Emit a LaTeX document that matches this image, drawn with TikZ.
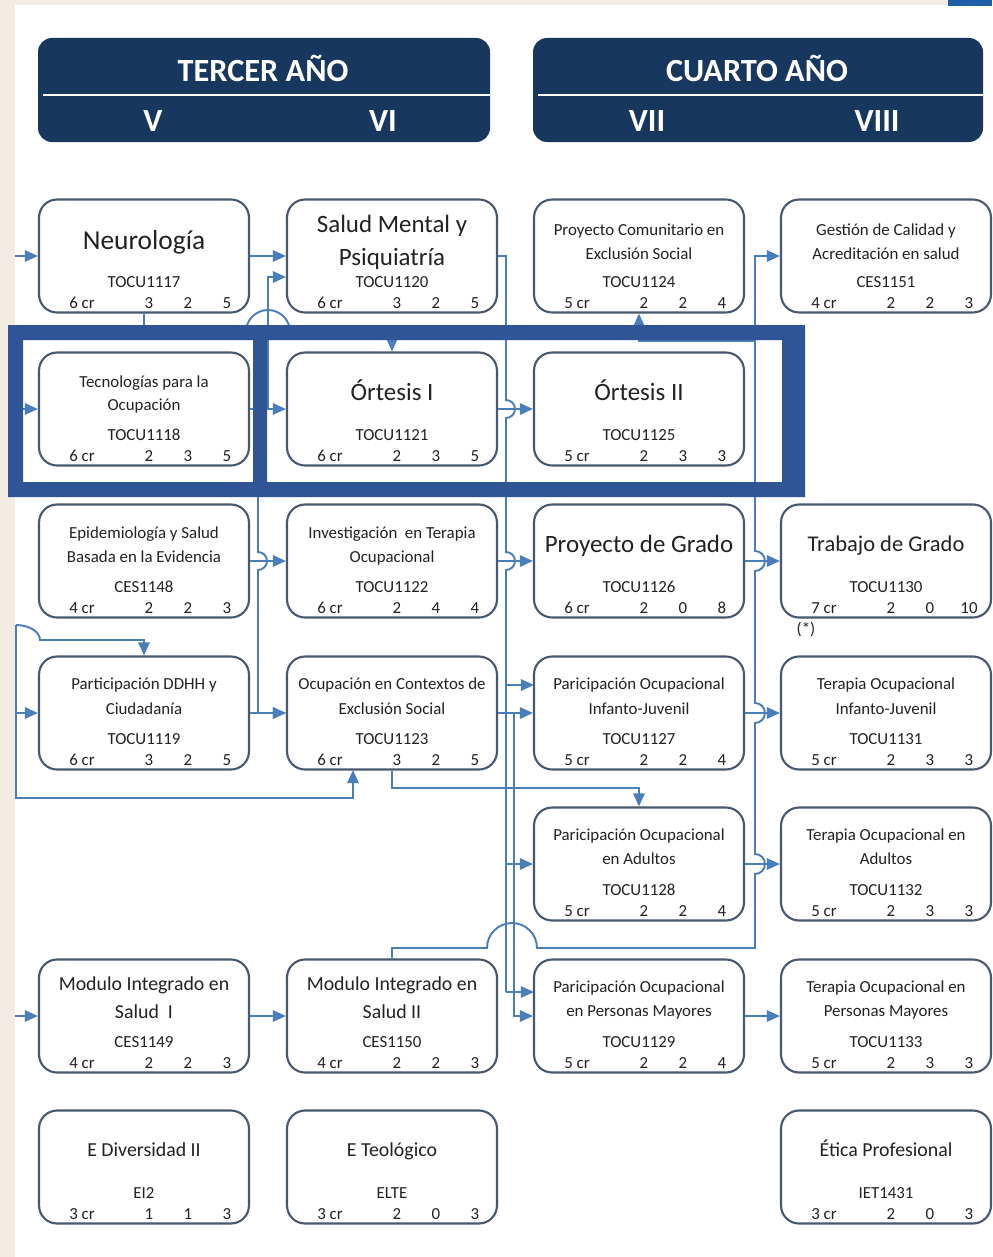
\documentclass[tikz,border=0pt]{standalone}
\usepackage{fontspec}
\setmainfont{Carlito}
\usetikzlibrary{arrows.meta}
\definecolor{navy}{HTML}{17375E}
\definecolor{lblue}{HTML}{4A7EBB}
\definecolor{boxc}{HTML}{475870}
\definecolor{fblue}{HTML}{2F5597}
\definecolor{beige}{HTML}{F2ECE2}
\definecolor{topblue}{HTML}{1F5FAA}
\definecolor{txt}{HTML}{222222}
\tikzset{
 cbox/.style={draw=boxc, line width=1.2pt, rounded corners=0.36cm, minimum width=4.2cm, minimum height=2.26cm, inner sep=0pt, fill=white},
 lbl/.style={inner sep=0pt, text=txt, text height=0.7em, text depth=0.2em},
 sm/.style={lbl, font=\fontsize{9.6}{11}\selectfont, yshift=-1.6pt},
 md/.style={lbl, font=\fontsize{11.3}{13}\selectfont, yshift=-1.8pt},
 bg/.style={lbl, font=\fontsize{14.2}{16}\selectfont, yshift=-2.2pt},
 conn/.style={draw=lblue, line width=1.1pt},
 arr/.style={conn, -{Triangle[length=7.5pt,width=6.5pt]}},
 hdr/.style={fill=navy, rounded corners=0.28cm},
 htxt/.style={inner sep=0pt, text=white, font=\bfseries\fontsize{18.4}{20}\selectfont, text height=0.7em, text depth=0.2em, yshift=-3.6pt},
}
\newcommand\course[8]{%
 \node[cbox] (#1) at ({#2+105},{#3+56}) {};
 \node[sm] (#1-code) at ({#2+105},{#3+80}) {#4};
 \node[sm] (#1-cr) at ({#2+43},{#3+101}) {#5 cr};
 \node[sm] (#1-a) at ({#2+110},{#3+101}) {#6};
 \node[sm] (#1-b) at ({#2+149},{#3+101}) {#7};
 \node[sm] (#1-c) at ({#2+188},{#3+101}) {#8};
}
\begin{document}
\begin{tikzpicture}[x=0.02cm,y=-0.02cm]
\useasboundingbox (0,0) rectangle (992,1257);
% background
\fill[white] (0,0) rectangle (992,1257);
\fill[beige] (0,0) rectangle (15,1257);
\fill[beige] (0,0) rectangle (992,5);
\fill[topblue] (948,0) rectangle (992,6);
% headers
\fill[hdr] (38,38) rectangle (490,142);
\fill[hdr] (533,38) rectangle (983,142);
\draw[white, line width=1.2pt] (43,95) -- (490,95);
\draw[white, line width=1.2pt] (538,95) -- (983,95);
\node[htxt] (h3) at (263,71) {TERCER AÑO};
\node[htxt] (h5) at (153,121) {V};
\node[htxt] (h6) at (383,121) {VI};
\node[htxt] (h4) at (757,71) {CUARTO AÑO};
\node[htxt] (h7) at (647,121) {VII};
\node[htxt] (h8) at (877,121) {VIII};

% boxes
\course{neuro}{39}{200}{TOCU1117}{6}{3}{2}{5}
\course{salud}{287}{200}{TOCU1120}{6}{3}{2}{5}
\course{proycom}{534}{200}{TOCU1124}{5}{2}{2}{4}
\course{gestion}{781}{200}{CES1151}{4}{2}{2}{3}
\course{tecno}{39}{353}{TOCU1118}{6}{2}{3}{5}
\course{ort1}{287}{353}{TOCU1121}{6}{2}{3}{5}
\course{ort2}{534}{353}{TOCU1125}{5}{2}{3}{3}
\course{epi}{39}{505}{CES1148}{4}{2}{2}{3}
\course{inv}{287}{505}{TOCU1122}{6}{2}{4}{4}
\course{pgrado}{534}{505}{TOCU1126}{6}{2}{0}{8}
\course{tgrado}{781}{505}{TOCU1130}{7}{2}{0}{10}
\course{ddhh}{39}{657}{TOCU1119}{6}{3}{2}{5}
\course{ocup}{287}{657}{TOCU1123}{6}{3}{2}{5}
\course{pinf}{534}{657}{TOCU1127}{5}{2}{2}{4}
\course{toinf}{781}{657}{TOCU1131}{5}{2}{3}{3}
\course{padul}{534}{808}{TOCU1128}{5}{2}{2}{4}
\course{toadul}{781}{808}{TOCU1132}{5}{2}{3}{3}
\course{mi1}{39}{960}{CES1149}{4}{2}{2}{3}
\course{mi2}{287}{960}{CES1150}{4}{2}{2}{3}
\course{pmay}{534}{960}{TOCU1129}{5}{2}{2}{4}
\course{tomay}{781}{960}{TOCU1133}{5}{2}{3}{3}
\course{ediv}{39}{1111}{EI2}{3}{1}{1}{3}
\course{eteo}{287}{1111}{ELTE}{3}{2}{0}{3}
\course{etica}{781}{1111}{IET1431}{3}{2}{0}{3}

% titles
\node[bg, font=\fontsize{15.6}{17}\selectfont] (neuro-t) at (144,241) {Neurología};
\node[bg] (salud-t1) at (392,224) {Salud Mental y};
\node[bg] (salud-t2) at (392,257) {Psiquiatría};
\node[sm] (proycom-t1) at (639,228) {Proyecto Comunitario en};
\node[sm] (proycom-t2) at (639,252) {Exclusión Social};
\node[sm] (gestion-t1) at (886,228) {Gestión de Calidad y};
\node[sm] (gestion-t2) at (886,252) {Acreditación en salud};
\node[sm] (tecno-t1) at (144,380) {Tecnologías para la};
\node[sm] (tecno-t2) at (144,403) {Ocupación};
\node[bg] (ort1-t) at (392,392) {Órtesis I};
\node[bg] (ort2-t) at (639,392) {Órtesis II};
\node[sm] (epi-t1) at (144,531) {Epidemiología y Salud};
\node[sm] (epi-t2) at (144,555) {Basada en la Evidencia};
\node[sm] (inv-t1) at (392,531) {Investigación\ \ en Terapia};
\node[sm] (inv-t2) at (392,555) {Ocupacional};
\node[bg] (pgrado-t) at (639,544) {Proyecto de Grado};
\node[bg, font=\fontsize{12.8}{15}\selectfont] (tgrado-t) at (886,543) {Trabajo de Grado};
\node[sm] (tgrado-n) at (806,627) {(*)};
\node[sm] (ddhh-t1) at (144,682) {Participación DDHH y};
\node[sm] (ddhh-t2) at (144,707) {Ciudadanía};
\node[sm] (ocup-t1) at (392,682) {Ocupación en Contextos de};
\node[sm] (ocup-t2) at (392,707) {Exclusión Social};
\node[sm] (pinf-t1) at (639,682) {Paricipación Ocupacional};
\node[sm] (pinf-t2) at (639,707) {Infanto-Juvenil};
\node[sm] (toinf-t1) at (886,682) {Terapia Ocupacional};
\node[sm] (toinf-t2) at (886,707) {Infanto-Juvenil};
\node[sm] (padul-t1) at (639,833) {Paricipación Ocupacional};
\node[sm] (padul-t2) at (639,857) {en Adultos};
\node[sm] (toadul-t1) at (886,833) {Terapia Ocupacional en};
\node[sm] (toadul-t2) at (886,857) {Adultos};
\node[md] (mi1-t1) at (144,983) {Modulo Integrado en};
\node[md] (mi1-t2) at (144,1011) {Salud\ \ I};
\node[md] (mi2-t1) at (392,983) {Modulo Integrado en};
\node[md] (mi2-t2) at (392,1011) {Salud II};
\node[sm] (pmay-t1) at (639,985) {Paricipación Ocupacional};
\node[sm] (pmay-t2) at (639,1009) {en Personas Mayores};
\node[sm] (tomay-t1) at (886,985) {Terapia Ocupacional en};
\node[sm] (tomay-t2) at (886,1009) {Personas Mayores};
\node[md] (ediv-t) at (144,1149) {E Diversidad II};
\node[md] (eteo-t) at (392,1149) {E Teológico};
\node[md] (etica-t) at (886,1149) {Ética Profesional};

% free ends
\coordinate (inN) at (15,256);
\coordinate (inT) at (15,409);
\coordinate (inD) at (15,713);
\coordinate (inM) at (15,1016);
\coordinate (s1) at (268,277);
\coordinate (v1) at (258,409);
\coordinate (a1) at (506,256);
\coordinate (b1) at (514,713);
\coordinate (c1) at (755,948);
\coordinate (c2) at (755,341);
\coordinate (L0) at (16,625);

% connectors
\draw[arr] (inN) -- (neuro.west);
\draw[arr] (inT) -- (tecno.west);
\draw[arr] (inD) -- (ddhh.west);
\draw[arr] (inM) -- (mi1.west);
\draw[arr] (neuro.east) -- (salud.west);
\draw[arr] (tecno.east) -- (ort1.west);
\draw[arr] (tecno.east) -- (tecno.east -| s1) -- (s1) -- (s1 -| salud.west);
\draw[arr] (neuro.south) -- (144,332) -- (246,332) arc[start angle=180,end angle=360,radius=22] -- (392,332) -- (ort1.north);
\draw[arr] (epi.east) -- (inv.west);
\draw[arr] (v1) -- (258,552) arc[start angle=-90,end angle=90,radius=9] -- (258,713) -- (ocup.west);
\draw[arr] (ddhh.east) -- (ocup.west);
\draw[arr] (mi1.east) -- (mi2.west);
% left margin lines
\draw[arr] (L0) -- (16,798) -- (353,798) -- (353,770);
\draw[arr] (L0) arc[start angle=270,end angle=360,x radius=24,y radius=15] -- (144,640) -- (ddhh.north);
% Salud mental trunk
\draw[conn] (salud.east) -- (a1) -- (506,400) arc[start angle=-90,end angle=90,radius=9] -- (506,552) arc[start angle=-90,end angle=90,radius=9] -- (506,992);
\draw[arr] (506,685) -- (534,685);
\draw[arr] (506,864) -- (padul.west);
\draw[arr] (506,992) -- (534,992);
\draw[arr] (ort1.east) -- (ort2.west);
\draw[arr] (inv.east) -- (pgrado.west);
\draw[arr] (ocup.east) -- (pinf.west);
\draw[arr] (ocup.east) -- (b1) -- (514,1016) -- (pmay.west);
\draw[arr] (ocup.south) -- (392,788) -- (639,788) -- (padul.north);
% Modulo II trunk
\draw[arr] (mi2.north) -- (392,948) -- (487,948) arc[start angle=180,end angle=360,radius=25] -- (c1) -- (755,874) arc[start angle=90,end angle=-90,radius=10] -- (755,723) arc[start angle=90,end angle=-90,radius=10] -- (755,571) arc[start angle=90,end angle=-90,radius=10] -- (755,256) -- (gestion.west);
\draw[arr] (c2) -- (c2 -| proycom.south) -- (proycom.south);
\draw[arr] (pgrado.east) -- (tgrado.west);
\draw[arr] (pinf.east) -- (toinf.west);
\draw[arr] (padul.east) -- (toadul.west);
\draw[arr] (pmay.east) -- (tomay.west);

% highlight frame
\fill[fblue, even odd rule] (8,325) rectangle (805,497) (23,340) rectangle (253,482) (267,340) rectangle (782,482);
\end{tikzpicture}
\end{document}
